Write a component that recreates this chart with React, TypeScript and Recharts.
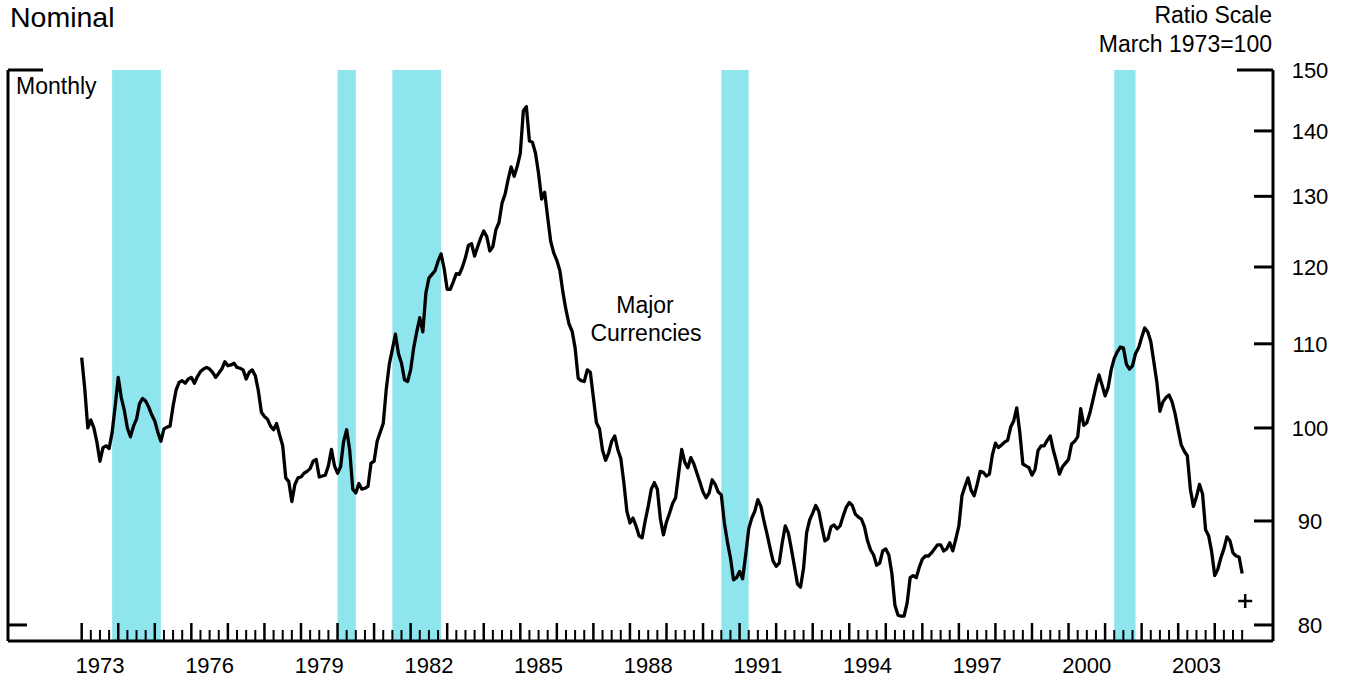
import React from "react";
import {
  ComposedChart,
  Line,
  XAxis,
  YAxis,
  ReferenceArea,
  ReferenceLine,
  ReferenceDot,
} from "recharts";

// Monthly index, Jan 1973 onward (March 1973 = 100)
const START_YEAR = 1973;

const values1970s = [
  108.3, 104.6, 100.0, 100.9, 100.0, 98.4, 96.3, 97.8, 98.0, 97.7, 99.5, 102.5,
  105.9, 103.5, 102.0, 100.0, 99.0, 100.2, 101.0, 102.8, 103.4, 103.1, 102.4, 101.5,
  100.8, 99.5, 98.5, 99.9, 100.1, 100.2, 102.5, 104.4, 105.3, 105.5, 105.2, 105.7,
  105.9, 105.2, 106.0, 106.6, 106.9, 107.1, 106.9, 106.5, 105.9, 106.4, 106.9, 107.8,
  107.3, 107.4, 107.6, 107.1, 107.0, 106.8, 105.7, 106.5, 106.8, 106.1, 104.3, 101.8,
  101.3, 101.0, 100.2, 99.8, 100.5, 99.2, 98.0, 94.5, 94.1, 92.0, 93.8, 94.5,
  94.6, 95.0, 95.2, 95.5, 96.3, 96.5, 94.6, 94.7, 94.8, 95.8, 97.6, 95.8,
];

const values1980s = [
  95.0, 95.7, 98.5, 99.8, 97.5, 93.3, 92.9, 93.9, 93.3, 93.4, 93.6, 96.1,
  96.3, 98.5, 99.5, 100.5, 104.5, 107.5, 109.3, 111.2, 108.8, 107.6, 105.6, 105.4,
  106.8, 109.5, 111.5, 113.3, 111.5, 116.5, 118.5, 119.0, 119.5, 120.8, 121.8, 119.8,
  117.0, 117.0, 118.0, 119.1, 119.0, 120.0, 121.3, 123.0, 123.2, 121.5, 122.8, 124.0,
  125.0, 124.2, 122.2, 122.8, 125.2, 126.2, 129.0, 130.3, 132.5, 134.4, 133.0, 134.5,
  136.5, 143.2, 143.9, 138.4, 138.2, 136.5, 133.4, 129.6, 130.6, 126.9, 123.5, 121.9,
  120.9, 119.5, 116.6, 114.3, 112.5, 111.6, 109.5, 105.8, 105.5, 105.4, 106.8, 106.5,
  103.5, 100.6, 99.9, 97.5, 96.4, 97.2, 98.5, 99.1, 97.6, 96.6, 94.0, 91.0,
  89.8, 90.3, 89.5, 88.5, 88.3, 90.0, 91.5, 93.3, 94.0, 93.3, 90.2, 88.6,
  89.9, 90.8, 91.8, 92.4, 95.0, 97.6, 96.2, 95.6, 96.7, 96.0, 95.0, 94.0,
];

const values1990s = [
  93.0, 92.4, 92.9, 94.3, 93.8, 93.0, 92.7, 89.8, 87.9, 86.3, 84.2, 84.4,
  85.0, 84.3, 86.6, 89.2, 90.3, 91.0, 92.2, 91.5, 90.0, 88.7, 87.3, 86.0,
  85.5, 85.8, 87.8, 89.5, 88.8, 87.2, 85.5, 83.8, 83.5, 85.3, 88.8, 90.1,
  90.8, 91.6, 91.0, 89.4, 88.0, 88.2, 89.4, 89.6, 89.2, 89.5, 90.5, 91.4,
  91.9, 91.6, 90.7, 90.4, 90.2, 89.4, 88.0, 87.1, 86.6, 85.6, 85.8, 87.0,
  87.2, 86.6, 84.8, 81.8, 80.9, 80.8, 80.8, 82.0, 84.4, 84.6, 84.4, 85.4,
  86.2, 86.5, 86.5, 86.8, 87.2, 87.6, 87.6, 87.0, 87.2, 87.8, 87.0, 88.2,
  89.5, 92.6, 93.6, 94.5, 93.2, 92.6, 93.8, 95.2, 95.1, 94.7, 94.9, 97.0,
  98.3, 97.8, 98.1, 98.4, 98.6, 100.1, 100.8, 102.3, 99.5, 96.0, 95.8, 95.6,
  94.8, 95.4, 97.5, 98.0, 98.0, 98.6, 99.1, 97.5, 96.3, 94.9, 95.7, 96.1,
];

const values2000s = [
  96.5, 98.2, 98.5, 99.0, 102.2, 100.3, 100.6, 101.7, 103.2, 104.8, 106.2, 105.0,
  103.7, 104.7, 106.8, 108.2, 109.0, 109.6, 109.5, 107.5, 106.9, 107.3, 108.8, 109.5,
  110.8, 112.0, 111.5, 110.3, 107.8, 105.3, 101.9, 103.0, 103.5, 103.8, 103.0, 101.6,
  99.8, 98.1, 97.4, 96.9, 93.3, 91.5, 92.5, 93.8, 92.8, 89.1, 88.5, 86.9,
  84.6, 85.2, 86.3, 87.2, 88.4, 88.0, 86.8, 86.5, 86.4, 84.8,
];

// latest reading marked with a cross (Nov 2004)
const plusPoint = { t: 2004 + 10 / 12, v: 82.2 };

// recessions: [start, end] in decimal years
const recessions = [
  [1973 + 10 / 12, 1975 + 2 / 12],
  [1980, 1980.5],
  [1981.5, 1982 + 10 / 12],
  [1990.5, 1991.25],
  [2001.25, 2001 + 10 / 12],
];

const yearLabels = ["1973", "1976", "1979", "1982", "1985", "1988", "1991", "1994", "1997", "2000", "2003"];
const yTicks = [80, 90, 100, 110, 120, 130, 140, 150];

const monthly = [...values1970s, ...values1980s, ...values1990s, ...values2000s];
const data = monthly.map((v, i) => ({ t: START_YEAR + i / 12, v }));

const xTicks: number[] = [];
for (let q = 0; q <= (2004.75 - 1973) * 4; q++) xTicks.push(1973 + q / 4);

const W = 1348;
const H = 681;
const PLOT_LEFT = 8;
const Y_AXIS_W = 75;
const PLOT_RIGHT = W - Y_AXIS_W;
const X_AXIS_H = 40;
const AXIS_Y = H - X_AXIS_H;
const X_MIN = 1970.984;
const X_MAX = 2005.594;
const FONT = "'Liberation Sans', Arial, Helvetica, sans-serif";
const BAND = "#8ee5ee";

function XTick(props: any) {
  const { x, payload } = props;
  const t = payload.value as number;
  const isYear = Math.abs(t - Math.round(t)) < 1e-6;
  const len = isYear ? 18 : 11;
  const label = yearLabels.find((l) => Math.abs(Number(l) + 0.5 - t) < 1e-6);
  return (
    <g>
      <line x1={x} x2={x} y1={AXIS_Y} y2={AXIS_Y - len} stroke="#000" strokeWidth={isYear ? 2.5 : 2} />
      {label && (
        <text x={x} y={673} textAnchor="middle" fontSize={22} fontFamily={FONT} fill="#000">
          {label}
        </text>
      )}
    </g>
  );
}

function YTick(props: any) {
  const { y, payload } = props;
  const v = payload.value as number;
  const len = v === 150 ? 36 : 19;
  return (
    <g>
      <line x1={PLOT_RIGHT - len} x2={PLOT_RIGHT} y1={y} y2={y} stroke="#000" strokeWidth={3} />
      {v === 150 && <line x1={PLOT_LEFT} x2={PLOT_LEFT + 35} y1={y} y2={y} stroke="#000" strokeWidth={3} />}
      {v === 80 && <line x1={PLOT_LEFT} x2={PLOT_LEFT + 19} y1={y} y2={y} stroke="#000" strokeWidth={3} />}
      <text x={1310} y={y} dy="0.36em" textAnchor="middle" fontSize={22} fontFamily={FONT} fill="#000">
        {v}
      </text>
    </g>
  );
}

function Plus(props: any) {
  const { cx, cy } = props;
  return (
    <g stroke="#000" strokeWidth={2.5}>
      <line x1={cx - 7} x2={cx + 7} y1={cy} y2={cy} />
      <line x1={cx} x2={cx} y1={cy - 7} y2={cy + 7} />
    </g>
  );
}

export default function App() {
  return (
    <div style={{ position: "absolute", left: 0, top: 0, width: W, height: H, background: "#fff" }}>
      <ComposedChart width={W} height={H} data={data} margin={{ top: 70, right: 0, bottom: 0, left: PLOT_LEFT }}>
        {recessions.map(([a, b], i) => (
          <ReferenceArea key={`rec-${i}`} x1={a} x2={b} fill={BAND} fillOpacity={1} stroke="none" ifOverflow="visible" />
        ))}
        <XAxis
          dataKey="t"
          type="number"
          domain={[X_MIN, X_MAX]}
          allowDataOverflow
          ticks={xTicks}
          interval={0}
          height={X_AXIS_H}
          axisLine={{ stroke: "#000", strokeWidth: 3 }}
          tickLine={false}
          tick={XTick}
        />
        <YAxis
          orientation="right"
          scale="log"
          domain={[78.56, 150]}
          allowDataOverflow
          ticks={yTicks}
          interval={0}
          width={Y_AXIS_W}
          axisLine={{ stroke: "#000", strokeWidth: 3 }}
          tickLine={false}
          tick={YTick}
        />
        <ReferenceLine x={X_MIN} stroke="#000" strokeWidth={3} />
        <Line
          type="linear"
          dataKey="v"
          stroke="#000"
          strokeWidth={3.3}
          strokeLinejoin="round"
          dot={false}
          isAnimationActive={false}
        />
        <ReferenceDot x={plusPoint.t} y={plusPoint.v} shape={Plus} ifOverflow="visible" />
      </ComposedChart>
      <svg
        width={W}
        height={H}
        style={{ position: "absolute", left: 0, top: 0, pointerEvents: "none" }}
        fontFamily={FONT}
        fill="#000"
      >
        <text x={10} y={27} fontSize={28.5}>Nominal</text>
        <text x={1272} y={23} fontSize={23} textAnchor="end">Ratio Scale</text>
        <text x={1272} y={52} fontSize={23} textAnchor="end">March 1973=100</text>
        <text x={16} y={94} fontSize={23}>Monthly</text>
        <text x={645} y={313} fontSize={23} textAnchor="middle">Major</text>
        <text x={646} y={341} fontSize={23} textAnchor="middle">Currencies</text>
      </svg>
    </div>
  );
}
